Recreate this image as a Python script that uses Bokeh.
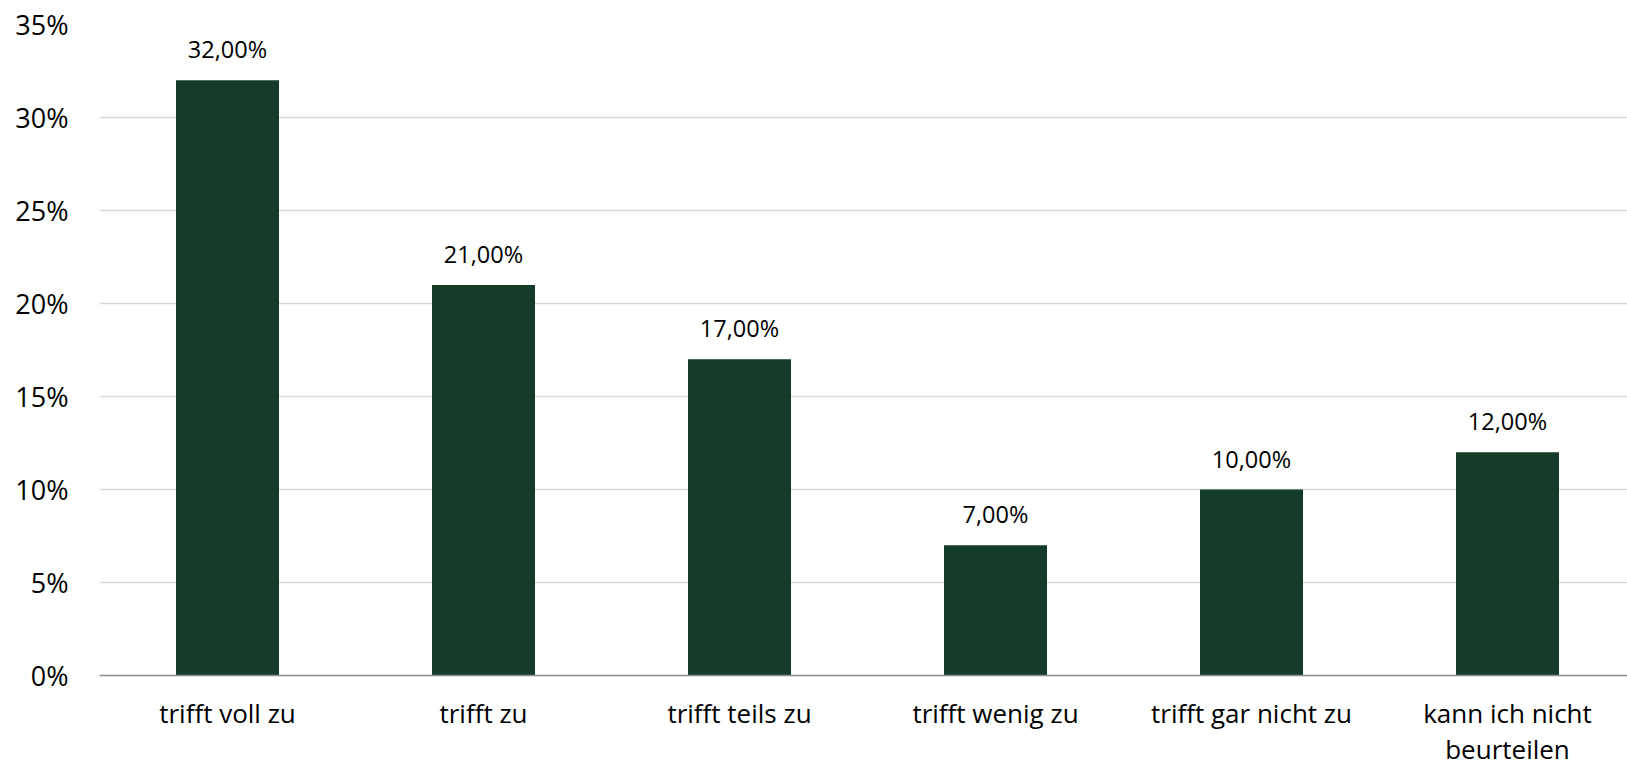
from bokeh.plotting import figure
from bokeh.models import Range1d, FixedTicker, PrintfTickFormatter, ColumnDataSource
from bokeh.core.properties import value
from bokeh.embed import file_html
from bokeh.resources import INLINE

categories = ["trifft voll zu", "trifft zu", "trifft teils zu", "trifft wenig zu",
              "trifft gar nicht zu", "kann ich nicht\nbeurteilen"]
values = [32, 21, 17, 7, 10, 12]
y_ticks = [0, 5, 10, 15, 20, 25, 30, 35]

FONT = "Open Sans"
BAR_COLOR = "#133D29"

xs = [i + 0.5 for i in range(len(categories))]
labels = [f"{v:.2f}".replace(".", ",") + "%" for v in values]
src = ColumnDataSource(dict(x=xs, top=values, label=labels))

p = figure(width=1627, height=769, output_backend="svg", toolbar_location=None,
           x_range=Range1d(0, 1528 / 256), y_range=Range1d(0, 35),
           min_border_left=99, min_border_right=0, min_border_top=24, min_border_bottom=0)
p.outline_line_color = None
p.background_fill_color = "white"
p.border_fill_color = "white"

p.vbar(x="x", top="top", bottom=0, width=103 / 256, source=src,
       fill_color=BAR_COLOR, line_color=None)

p.text(x="x", y="top", text="label", source=src, text_font=value(FONT),
       text_font_size="23.5px", text_color="#000000", text_align="center",
       text_baseline="middle", y_offset=-31)

# grid
p.xgrid.grid_line_color = None
p.ygrid.grid_line_color = "#D9D9D9"
p.ygrid.grid_line_width = 1.5
p.ygrid.ticker = FixedTicker(ticks=y_ticks)

# y axis
p.yaxis.ticker = FixedTicker(ticks=y_ticks)
p.yaxis.formatter = PrintfTickFormatter(format="%d%%")
p.yaxis.axis_line_color = None
p.yaxis.major_tick_line_color = None
p.yaxis.minor_tick_line_color = None
p.yaxis.major_tick_out = 0
p.yaxis.major_tick_in = 0
p.yaxis.major_label_standoff = 31
p.yaxis.major_label_text_font = FONT
p.yaxis.major_label_text_font_size = "27px"
p.yaxis.major_label_text_color = "#000000"

# x axis
p.xaxis.ticker = FixedTicker(ticks=xs)
p.xaxis.major_label_overrides = {x: c for x, c in zip(xs, categories)}
p.xaxis.axis_line_color = "#8C8C8C"
p.xaxis.axis_line_width = 1.5
p.xaxis.major_tick_line_color = None
p.xaxis.minor_tick_line_color = None
p.xaxis.major_tick_out = 0
p.xaxis.major_tick_in = 0
p.xaxis.major_label_standoff = 19
p.xaxis.major_label_text_font = FONT
p.xaxis.major_label_text_font_size = "26px"
p.xaxis.major_label_text_line_height = 1.0
p.xaxis.major_label_text_color = "#000000"

open("out.html", "w").write(file_html(p, INLINE))
